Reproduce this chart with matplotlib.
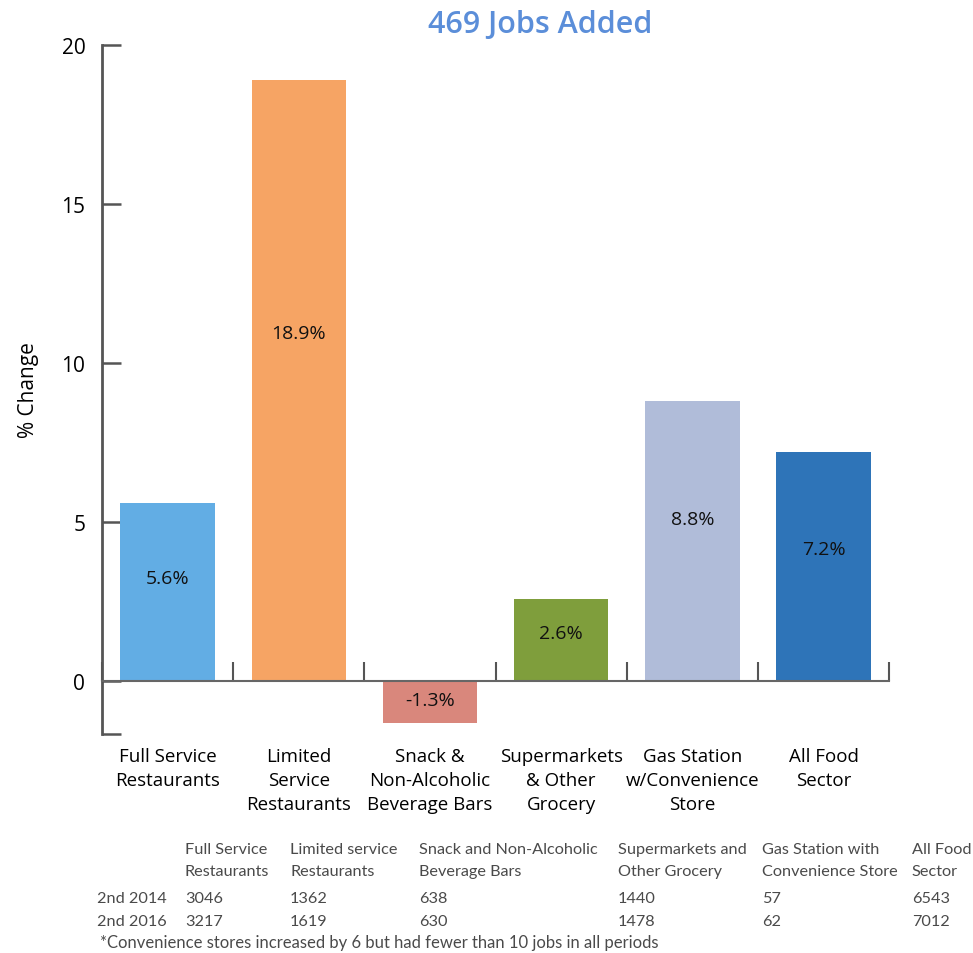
import matplotlib
matplotlib.use('Agg')
import matplotlib.pyplot as plt
import numpy as np

categories = ['Full Service\nRestaurants', 'Limited\nService\nRestaurants',
              'Snack &\nNon-Alcoholic\nBeverage Bars', 'Supermarkets\n& Other\nGrocery',
              'Gas Station\nw/Convenience\nStore', 'All Food\nSector']
pct_change = [5.6, 18.9, -1.3, 2.6, 8.8, 7.2]
bar_colors = ['#62ade4', '#f6a464', '#d9877c', '#7f9e3c', '#b0bcd9', '#2e74b8']

table_headers = ['Full Service\nRestaurants', 'Limited service\nRestaurants',
                 'Snack and Non-Alcoholic\nBeverage Bars', 'Supermarkets and\nOther Grocery',
                 'Gas Station with\nConvenience Store', 'All Food\nSector']
row_labels = ['2nd 2014', '2nd 2016']
jobs_2014 = [3046, 1362, 638, 1440, 57, 6543]
jobs_2016 = [3217, 1619, 630, 1478, 62, 7012]
footnote = '*Convenience stores increased by 6 but had fewer than 10 jobs in all periods'
title = '469 Jobs Added'

plt.rcParams['font.family'] = ['Open Sans', 'DejaVu Sans']

fig = plt.figure(figsize=(9.73, 9.54), dpi=100)
ax = fig.add_axes([0.1048, 0.2296, 0.809, 0.7222])

x = np.arange(len(categories))
ax.bar(x, pct_change, width=0.72, color=bar_colors, zorder=2)

for xi, v in zip(x, pct_change):
    ypos = v * 0.58 if v > 0 else v * 0.45
    ax.text(xi, ypos, f'{v}%', ha='center', va='center', fontsize=14, color='#111111', zorder=3)

ax.set_xlim(-0.5, len(categories) - 0.5)
ax.set_ylim(-1.65, 20)

for s in ['top', 'right']:
    ax.spines[s].set_visible(False)
ax.spines['left'].set_color('#555555')
ax.spines['left'].set_linewidth(2)
ax.spines['bottom'].set_position(('data', 0))
ax.spines['bottom'].set_color('#666666')
ax.spines['bottom'].set_linewidth(1.5)

ax.set_yticks([-1.65, 0, 5, 10, 15, 20])
ax.set_yticklabels(['', '0', '5', '10', '15', '20'])
ax.tick_params(axis='y', direction='in', length=14, width=1.8, color='#555555',
               labelsize=15, pad=12)

ax.set_xticks(x)
ax.set_xticklabels(categories, fontsize=13.5, linespacing=1.45, va='top')
ax.tick_params(axis='x', which='major', length=0, pad=47)
ax.set_xticks(np.arange(-0.5, len(categories)), minor=True)
ax.tick_params(axis='x', which='minor', direction='in', length=14, width=1.5, color='#555555')

ax.set_ylabel('% Change', fontsize=15, labelpad=16)

fig.text(0.555, 0.974, title, ha='center', va='center', fontsize=22,
         fontweight='semibold', color='#5b8ed9')

# table below the chart
tfont = ['Lato', 'DejaVu Sans']
tcolor = '#4a4a4a'
col_x = [185, 290, 419, 618, 762, 912]
W, H = 973, 954
for cx, h in zip(col_x, table_headers):
    fig.text(cx / W, 1 - 843 / H, h, ha='left', va='top', fontsize=11.7,
             color=tcolor, family=tfont, linespacing=1.7)
for ry, lab, vals in zip([899, 922], row_labels, [jobs_2014, jobs_2016]):
    fig.text(97 / W, 1 - ry / H, lab, ha='left', va='center', fontsize=11.7,
             color=tcolor, family=tfont)
    for cx, v in zip(col_x, vals):
        fig.text(cx / W, 1 - ry / H, str(v), ha='left', va='center', fontsize=11.7,
                 color=tcolor, family=tfont)
fig.text(100 / W, 1 - 943 / H, footnote, ha='left', va='center', fontsize=12,
         color=tcolor, family=tfont)

fig.savefig('out.png', dpi=100)
